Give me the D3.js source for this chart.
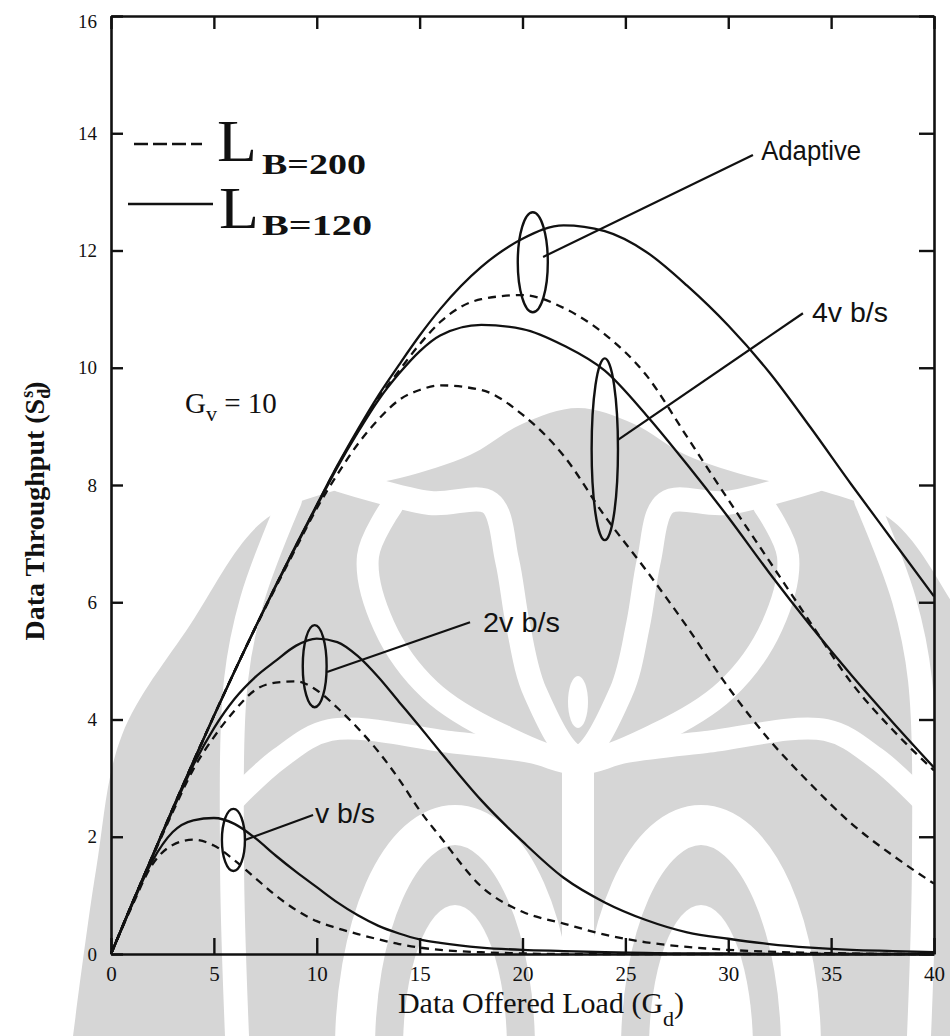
<!DOCTYPE html>
<html>
<head>
<meta charset="utf-8">
<script src="https://cdn.jsdelivr.net/npm/d3@7"></script>
<style>
  html, body { margin: 0; padding: 0; background: #ffffff; }
  svg { display: block; }
</style>
</head>
<body>
<svg id="chart" width="950" height="1036"></svg>
<script>
// ---- data -------------------------------------------------------------
// Data offered load G_d (shared sample grid for every curve)
const offeredLoad = [0,1,2,3,4,5,6,7,8,9,10,11,12,13,14,15,16,18,20,22,24,26,28,30,32,34,36,38,40];

// Data throughput S_d^s for each rate, L_B = 120 (solid) and L_B = 200 (dashed)
const adaptiveL120 = [0,0.84,1.66,2.48,3.28,4.06,4.82,5.56,6.28,6.98,7.66,8.33,8.95,9.53,10.05,10.55,11.0,11.72,12.2,12.43,12.33,11.98,11.4,10.72,9.92,8.98,8.0,7.05,6.1];
const adaptiveL200 = [0,0.84,1.66,2.48,3.28,4.06,4.82,5.56,6.28,6.97,7.65,8.32,8.92,9.48,9.95,10.4,10.78,11.17,11.24,11.02,10.57,9.88,8.82,7.75,6.7,5.65,4.62,3.82,3.13];
const rate4vL120   = [0,0.84,1.66,2.48,3.28,4.06,4.82,5.56,6.27,6.96,7.64,8.3,8.9,9.45,9.9,10.28,10.55,10.73,10.66,10.38,9.95,9.2,8.35,7.45,6.5,5.6,4.75,3.95,3.18];
const rate4vL200   = [0,0.84,1.66,2.48,3.28,4.06,4.82,5.55,6.25,6.93,7.6,8.18,8.7,9.12,9.45,9.62,9.7,9.62,9.2,8.5,7.47,6.55,5.58,4.55,3.65,2.9,2.22,1.68,1.2];
const rate2vL120   = [0,0.84,1.65,2.45,3.22,3.85,4.35,4.72,5.0,5.26,5.38,5.32,5.08,4.72,4.3,3.88,3.45,2.62,1.92,1.3,0.88,0.58,0.37,0.26,0.17,0.11,0.07,0.05,0.03];
const rate2vL200   = [0,0.84,1.64,2.42,3.15,3.7,4.15,4.5,4.63,4.65,4.5,4.2,3.85,3.45,2.98,2.45,2.0,1.15,0.72,0.52,0.33,0.2,0.12,0.07,0.04,0.02,0.01,0,0];
const rate1vL120   = [0,0.82,1.58,2.08,2.28,2.32,2.22,1.98,1.68,1.4,1.14,0.88,0.66,0.48,0.35,0.25,0.19,0.11,0.07,0.05,0.03,0.02,0.01,0.01,0,0,0,0,0];
const rate1vL200   = [0,0.8,1.52,1.86,1.95,1.85,1.6,1.3,1.0,0.75,0.56,0.44,0.34,0.25,0.17,0.11,0.07,0.03,0.01,0,0,0,0,0,0,0,0,0,0];

// Axis ticks
const xTickValues = [0,5,10,15,20,25,30,35,40];
const yTickValues = [0,2,4,6,8,10,12,14,16];

// Group annotations: ellipse around a curve pair, leader line, label (data units)
const groupLabels  = ["Adaptive", "4v b/s", "2v b/s", "v b/s"];
const ringCenters  = [[20.5, 11.8], [24.0, 8.61], [9.9, 4.91], [5.95, 1.945]];
const ringRadii    = [[0.73, 0.853], [0.64, 1.55], [0.58, 0.70], [0.56, 0.53]];
const leaderStarts = [[21.0, 11.89], [24.64, 8.77], [10.5, 4.81], [6.51, 1.945]];
const leaderEnds   = [[31.2, 13.63], [33.63, 10.93], [17.45, 5.66], [9.82, 2.37]];
const labelAnchors = [[31.6, 13.54], [34.07, 10.78], [18.08, 5.49], [9.91, 2.23]];
const labelWidths  = [100, 76, 77, 60];

// ---- layout -----------------------------------------------------------
const svg = d3.select("#chart");
const x = d3.scaleLinear().domain([0, 40]).range([111, 934]);
const y = d3.scaleLinear().domain([0, 16]).range([954, 16]);
const ink = "#111111";
const serif = "'Liberation Serif', 'Times New Roman', serif";
const sans = "'Liberation Sans', Arial, sans-serif";

// ---- background emblem (light grey, behind the plot) ------------------
const emblem = svg.append("g").attr("class", "emblem");
const ecx = 578;
const grey = "#d6d6d6";
const smooth = d3.line().curve(d3.curveCatmullRom.alpha(0.5));
const flip = pts => pts.map(([px, py]) => [2 * ecx - px, py]);
const mirrored = pts => pts.concat(flip(pts.slice(0, -1).reverse()));

emblem.append("path")
  .attr("d", smooth(mirrored([[70,1060],[96,870],[122,735],[190,625],[262,522],[330,492],[400,478],[470,455],[522,424],[578,408]])))
  .attr("fill", grey);

// white gaps; open strokes are drawn on both sides, closed ones meet on the axis
const gapLines = [
  { pts: [[238,1060],[232,860],[236,680],[252,600],[290,500]], w: 24 },
  { pts: [[340,480],[430,503],[490,503],[507,560],[518,625],[535,692],[578,757]], w: 24 },
  { pts: [[392,506],[368,556],[384,626],[430,690],[500,734],[578,760]], w: 22 },
  { pts: [[234,800],[280,758],[330,730],[450,742],[530,752],[578,764]], w: 22 }
];
gapLines.forEach(g => {
  const meets = g.pts[g.pts.length - 1][0] === ecx;
  const paths = meets ? [mirrored(g.pts)] : [g.pts, flip(g.pts)];
  paths.forEach(p => emblem.append("path").attr("d", smooth(p))
    .attr("fill", "none").attr("stroke", "#ffffff").attr("stroke-width", g.w)
    .attr("stroke-linecap", "round"));
});
[455, 2 * ecx - 455].forEach(ax => {
  emblem.append("ellipse").attr("cx", ax).attr("cy", 1050).attr("rx", 100).attr("ry", 225)
    .attr("fill", "none").attr("stroke", "#ffffff").attr("stroke-width", 40);
  emblem.append("ellipse").attr("cx", ax).attr("cy", 1050).attr("rx", 52).attr("ry", 145)
    .attr("fill", "#ffffff");
});
emblem.append("rect").attr("x", ecx - 16).attr("y", 757).attr("width", 32).attr("height", 300).attr("fill", "#ffffff");
emblem.append("ellipse").attr("cx", ecx).attr("cy", 702).attr("rx", 10).attr("ry", 26).attr("fill", "#ffffff");

// ---- axes (ticks point inward on all four sides) -----------------------
function styleAxis(g) {
  g.select(".domain").attr("stroke", ink).attr("stroke-width", 2.6);
  g.selectAll(".tick line").attr("stroke", ink).attr("stroke-width", 2.4);
}
svg.append("g").attr("transform", `translate(0,${y(0)})`)
  .call(d3.axisBottom(x).tickValues(xTickValues).tickSizeInner(-16).tickSizeOuter(0).tickPadding(12))
  .call(styleAxis)
  .call(g => g.selectAll("text").attr("font-family", serif).attr("font-size", 21).attr("fill", ink));
svg.append("g").attr("transform", `translate(0,${y(16)})`)
  .call(d3.axisTop(x).tickValues(xTickValues).tickSizeInner(-13).tickSizeOuter(0).tickFormat(() => ""))
  .call(styleAxis);
svg.append("g").attr("transform", `translate(${x(0)},0)`)
  .call(d3.axisLeft(y).tickValues(yTickValues).tickSizeInner(-12).tickSizeOuter(0).tickPadding(14))
  .call(styleAxis)
  .call(g => g.selectAll("text").attr("font-family", serif).attr("font-size", 19).attr("fill", ink)
    .attr("dy", d => d === 16 ? "0.6em" : "0.32em"));
svg.append("g").attr("transform", `translate(${x(40)},0)`)
  .call(d3.axisRight(y).tickValues(yTickValues).tickSizeInner(-15).tickSizeOuter(0).tickFormat(() => ""))
  .call(styleAxis);

// ---- curves --------------------------------------------------------------
const series = [
  { values: adaptiveL120, dashed: false },
  { values: adaptiveL200, dashed: true },
  { values: rate4vL120,   dashed: false },
  { values: rate4vL200,   dashed: true },
  { values: rate2vL120,   dashed: false },
  { values: rate2vL200,   dashed: true },
  { values: rate1vL120,   dashed: false },
  { values: rate1vL200,   dashed: true }
];
const curve = d3.line()
  .x((d, i) => x(offeredLoad[i]))
  .y(d => y(d))
  .curve(d3.curveMonotoneX);
svg.append("g").selectAll("path").data(series).join("path")
  .attr("d", s => curve(s.values))
  .attr("fill", "none")
  .attr("stroke", ink)
  .attr("stroke-width", 2.3)
  .attr("stroke-dasharray", s => s.dashed ? "8,6" : null);

// ---- group annotations ----------------------------------------------------
const notes = svg.append("g");
groupLabels.forEach((label, i) => {
  const [cxv, cyv] = ringCenters[i];
  const [rxv, ryv] = ringRadii[i];
  notes.append("ellipse")
    .attr("cx", x(cxv)).attr("cy", y(cyv))
    .attr("rx", x(rxv) - x(0)).attr("ry", y(0) - y(ryv))
    .attr("fill", "none").attr("stroke", ink).attr("stroke-width", 2.4);
  notes.append("line")
    .attr("x1", x(leaderStarts[i][0])).attr("y1", y(leaderStarts[i][1]))
    .attr("x2", x(leaderEnds[i][0])).attr("y2", y(leaderEnds[i][1]))
    .attr("stroke", ink).attr("stroke-width", 2.2);
  notes.append("text")
    .attr("x", x(labelAnchors[i][0])).attr("y", y(labelAnchors[i][1]))
    .attr("font-family", sans).attr("font-size", 27).attr("fill", ink)
    .attr("textLength", labelWidths[i]).attr("lengthAdjust", "spacingAndGlyphs")
    .text(label);
});

// G_v = 10
const gv = svg.append("text").attr("x", 185).attr("y", 413)
  .attr("font-family", serif).attr("font-size", 29).attr("fill", ink);
gv.append("tspan").text("G");
gv.append("tspan").attr("font-size", 22).attr("dy", 8).text("v");
gv.append("tspan").attr("dy", -8).text(" = 10");

// ---- legend ---------------------------------------------------------------
const legendRows = [
  { dash: "14,5", x1: 134, x2: 202, ly: 144, lBase: 161, lx: 217, sub: "B=200", subBase: 174, subLen: 104 },
  { dash: null,   x1: 128, x2: 213, ly: 204, lBase: 228, lx: 219, sub: "B=120", subBase: 235, subLen: 110 }
];
legendRows.forEach(r => {
  svg.append("line").attr("x1", r.x1).attr("x2", r.x2).attr("y1", r.ly).attr("y2", r.ly)
    .attr("stroke", ink).attr("stroke-width", 2.4).attr("stroke-dasharray", r.dash);
  svg.append("text").attr("x", r.lx).attr("y", r.lBase)
    .attr("font-family", serif).attr("font-size", 60).attr("fill", ink)
    .attr("textLength", 40).attr("lengthAdjust", "spacingAndGlyphs").text("L");
  svg.append("text").attr("x", 262).attr("y", r.subBase)
    .attr("font-family", serif).attr("font-weight", "bold").attr("font-size", 30).attr("fill", ink)
    .attr("textLength", r.subLen).attr("lengthAdjust", "spacingAndGlyphs").text(r.sub);
});

// ---- axis titles -------------------------------------------------------------
const xt = svg.append("text").attr("x", 541).attr("y", 1013).attr("text-anchor", "middle")
  .attr("font-family", serif).attr("font-size", 30).attr("fill", ink);
xt.append("tspan").text("Data Offered Load (G");
xt.append("tspan").attr("font-size", 22).attr("dy", 13).text("d");
xt.append("tspan").attr("dy", -13).text(")");

const yt = svg.append("text").attr("transform", "translate(44,511) rotate(-90)").attr("text-anchor", "middle")
  .attr("font-family", serif).attr("font-size", 28).attr("font-weight", "bold").attr("fill", ink);
yt.append("tspan").text("Data Throughput (S");
yt.append("tspan").attr("font-size", 18).attr("dy", 6).text("d");
yt.append("tspan").attr("font-size", 18).attr("dx", -9).attr("dy", -17).text("s");
yt.append("tspan").attr("dy", 11).text(")");
</script>
</body>
</html>
